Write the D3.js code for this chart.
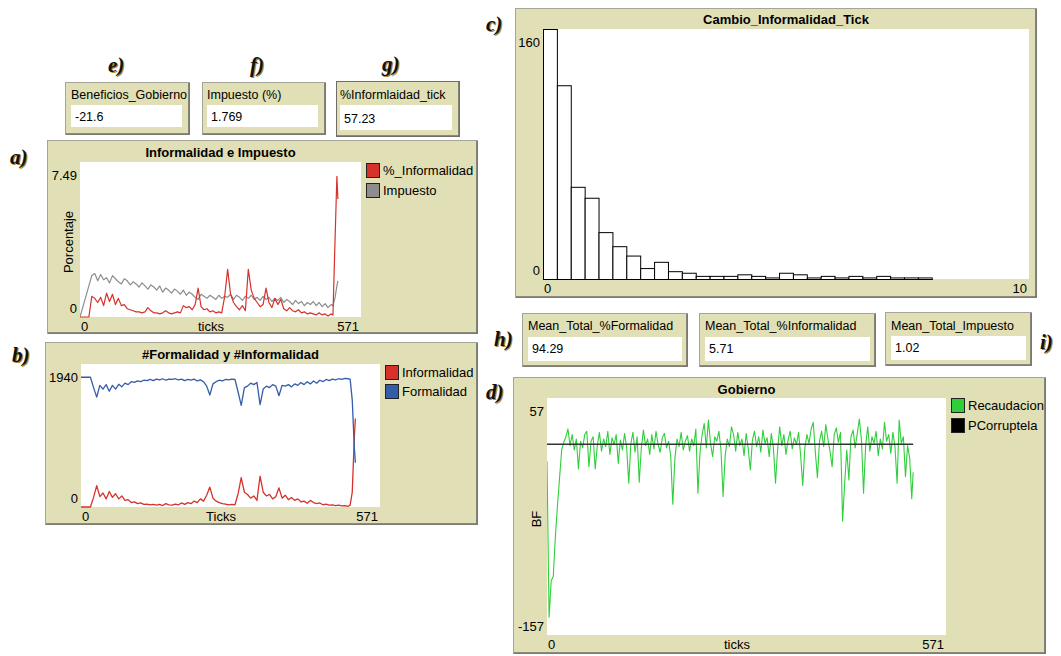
<!DOCTYPE html>
<html><head><meta charset="utf-8">
<script src="https://cdn.jsdelivr.net/npm/d3@7"></script>
<style>body{margin:0;background:#fff}svg{display:block}</style>
</head><body>
<svg id="c" width="1061" height="656"></svg>
<script>
// ---------------- DATA ----------------
// Plot a) Informalidad e Impuesto  /  Plot b) #Formalidad y #Informalidad
const ticksAB = d3.range(0, 511, 6).concat([514, 518, 522, 524]);
const pctInformalidad = [
 0,0,0,0,1.0,0.9,0.7,0.95,0.55,1.15,
 0.75,1.1,0.6,0.9,0.55,0.6,0.4,0.35,0.3,0.25,
 0.25,0.2,0.25,0.45,0.3,0.2,0.2,0.15,0.2,0.3,
 0.2,0.15,0.2,0.25,0.2,0.55,0.45,0.5,0.35,0.6,
 1.4,0.5,0.35,0.4,0.25,0.3,0.2,0.25,0.2,1.0,
 2.3,1.1,0.7,0.5,0.35,0.55,0.3,2.3,1.3,0.9,
 0.7,0.5,0.6,1.4,0.7,0.45,0.9,0.6,0.85,0.4,
 0.3,0.45,0.3,0.25,0.35,0.2,0.25,0.15,0.2,0.15,
 0.1,0.2,0.1,0.15,0.05,0.15,
 0.1,3.5,6.8,5.7];
const impuesto = [
 0,0.5,1.0,1.5,2.0,2.1,1.75,2.05,1.8,1.9,
 1.65,2.0,1.85,1.7,1.6,1.85,1.75,1.55,1.7,1.6,
 1.45,1.65,1.5,1.35,1.55,1.45,1.3,1.5,1.2,1.4,
 1.3,1.15,1.35,1.25,1.1,1.3,1.05,1.2,1.1,0.95,
 0.85,1.1,1.0,0.9,1.05,0.95,0.85,1.05,0.9,1.0,
 0.95,1.1,0.85,1.05,0.95,0.8,1.0,0.9,1.05,0.85,
 0.95,0.8,1.0,0.85,0.95,0.75,0.9,0.8,0.95,0.7,
 0.85,0.75,0.6,0.8,0.65,0.75,0.55,0.7,0.6,0.75,
 0.55,0.7,0.5,0.65,0.45,0.6,
 0.55,0.9,1.5,1.75];
const informalidad = [
 0,0,0,0,130,290,140,190,110,210,
 130,180,110,150,90,100,60,70,45,55,
 35,40,30,35,25,35,20,45,30,25,
 40,30,55,35,60,45,80,60,110,80,
 160,270,120,80,60,45,40,30,35,30,
 180,400,200,170,120,150,90,420,200,150,
 170,110,140,260,120,160,100,130,90,110,
 70,80,50,90,60,45,55,30,40,25,
 30,20,25,15,20,10,
 25,200,950,1200];
const formalidad = [
 1760,1760,1760,1760,1620,1490,1650,1600,1660,1570,
 1650,1600,1665,1630,1680,1660,1700,1690,1710,1700,
 1720,1715,1730,1715,1735,1725,1740,1720,1735,1730,
 1740,1725,1735,1715,1730,1720,1735,1710,1725,1700,
 1640,1520,1670,1700,1720,1710,1730,1725,1735,1730,
 1560,1380,1620,1640,1680,1660,1690,1390,1600,1640,
 1620,1660,1640,1510,1650,1640,1660,1630,1670,1650,
 1690,1660,1700,1670,1710,1680,1720,1700,1730,1715,
 1735,1725,1740,1730,1745,1740,
 1735,1450,800,600];

// Plot c) Cambio_Informalidad_Tick (histogram)
const histInterval = 0.2857;
const histCounts = [160,124,59,52,30,21,15,7,11,5,4,2,2,2,3,2,1,4,3,1,2,1,2,1,2,1,1,1];

// Plot d) Gobierno
const ticksD = [0,3,6,9,12,15,18,21].concat(d3.range(24, 523, 3), [524]);
const recaudacion = [
 0,-141,-108,-104,-68,-40,-15,10,
 17,22,29,14,24,10,20,-7,18,12,
 24,27,-5,18,22,-7,14,26,9,20,
 13,27,6,21,15,24,-2,19,10,25,
 12,-20,16,26,8,22,-19,12,28,14,
 20,6,24,11,27,15,8,21,25,12,
 18,5,-39,2,20,13,26,10,18,23,
 9,20,14,29,-29,8,24,34,12,37,
 16,4,22,18,27,10,-32,5,20,13,
 31,24,9,26,14,20,5,25,11,-8,
 19,27,13,22,8,28,16,21,4,25,
 12,-20,10,31,14,24,6,19,27,11,
 21,15,26,5,-22,12,24,16,29,35,
 8,-15,18,27,13,33,20,9,-5,24,
 30,17,26,-54,-20,10,-17,22,28,12,
 25,38,19,-29,14,31,9,22,16,27,
 5,20,11,35,18,24,7,26,13,-20,
 37,16,22,-14,14,3,-34,
 -10];
const ticksCorr = [0, 524];
const pCorruptela = [15.2, 15.2];

// Monitors
const topMonitorLabels = ["Beneficios_Gobierno", "Impuesto (%)", "%Informlaidad_tick"];
const topMonitorValues = ["-21.6", "1.769", "57.23"];
const botMonitorLabels = ["Mean_Total_%Formalidad", "Mean_Total_%Informalidad", "Mean_Total_Impuesto"];
const botMonitorValues = ["94.29", "5.71", "1.02"];

// Titles / axis labels
const titles = ["Informalidad e Impuesto", "#Formalidad y #Informalidad", "Cambio_Informalidad_Tick", "Gobierno"];
const yRangeA = [0, 7.49], yRangeB = [0, 1940], yRangeC = [0, 160], yRangeD = [-157, 57];
const xRangeA = [0, 571], xRangeB = [0, 571], xRangeC = [0, 10], xRangeD = [0, 571];
const legendA = ["%_Informalidad", "Impuesto"];
const legendB = ["Informalidad", "Formalidad"];
const legendD = ["Recaudacion", "PCorruptela"];
const panelTags = ["a)", "b)", "c)", "d)", "e)", "f)", "g)", "h)", "i)"];

// ---------------- DRAWING ----------------
const svg = d3.select("#c");
const BEIGE = "#e0dfb5";
const SANS = "'Liberation Sans', Arial, sans-serif";
const C = {red:"#d7322a", gray:"#8d8d8d", blue:"#345da9", lime:"#2fcf3c", black:"#000"};

function widget(x0, y0, x1, y1, dark) {
  svg.append("rect").attr("x", x0 + 0.5).attr("y", y0 + 0.5)
    .attr("width", x1 - x0 - 1).attr("height", y1 - y0 - 1)
    .attr("fill", BEIGE).attr("stroke", dark ? "#6d6d66" : "#a4a499");
  svg.append("path").attr("d", `M${x1 - 1},${y0 + 1}V${y1 - 1}H${x0 + 1}`)
    .attr("fill", "none").attr("stroke", "#6f6f69").attr("stroke-width", 1.6);
}
function txt(x, y, s, opt = {}) {
  const t = svg.append("text").attr("x", x).attr("y", y).text(s)
    .attr("font-family", opt.family || SANS)
    .attr("font-size", opt.size || 12.5)
    .attr("font-weight", opt.bold ? "bold" : "normal")
    .attr("font-style", opt.italic ? "italic" : "normal")
    .attr("text-anchor", opt.anchor || "start")
    .attr("dominant-baseline", "central")
    .attr("fill", opt.fill || "#000");
  if (opt.rotate) t.attr("transform", `rotate(-90,${x},${y})`);
  return t;
}
function tag(x, y, s) {
  const o = {family: "'Liberation Serif', 'Times New Roman', serif", size: 21};
  svg.append("text").attr("x", x + 1.2).attr("y", y + 1.2).text(s)
    .attr("font-family", o.family).attr("font-size", o.size).attr("font-weight", "bold")
    .attr("font-style", "italic").attr("fill", "#a8862e");
  svg.append("text").attr("x", x).attr("y", y).text(s)
    .attr("font-family", o.family).attr("font-size", o.size).attr("font-weight", "bold")
    .attr("font-style", "italic").attr("fill", "#111");
}

let clipId = 0;
function plotFrame(cfg) {
  widget(...cfg.box);
  const a = cfg.area;
  svg.append("rect").attr("x", a.x).attr("y", a.y).attr("width", a.w).attr("height", a.h).attr("fill", "#fff");
  const x = d3.scaleLinear().domain(cfg.xd).range([a.x, a.x + a.w]);
  const y = d3.scaleLinear().domain(cfg.yd).range([a.y + a.h, a.y]);
  txt(a.x + a.w / 2, cfg.titleY, cfg.title, {bold: true, size: 13, anchor: "middle"});
  txt(a.x - 3, a.y + 13, String(cfg.yd[1]), {anchor: "end", size: 13});
  txt(a.x - 3, a.y + a.h - 9, String(cfg.yd[0]), {anchor: "end", size: 13});
  txt(a.x + 1, a.y + a.h + 9, String(cfg.xd[0]), {size: 13});
  txt(a.x + a.w - 2, a.y + a.h + 9, String(cfg.xd[1]), {anchor: "end", size: 13});
  if (cfg.xLabel) txt(cfg.xLabelX, a.y + a.h + 9, cfg.xLabel, {anchor: "middle", size: 13});
  if (cfg.yLabel) txt(cfg.yLabelX, cfg.yLabelY, cfg.yLabel, {anchor: "middle", size: 13, rotate: true});
  const id = "clip" + (clipId++);
  svg.append("clipPath").attr("id", id).append("rect")
    .attr("x", a.x).attr("y", a.y - 1).attr("width", a.w).attr("height", a.h + 2);
  const g = svg.append("g").attr("clip-path", `url(#${id})`);
  return {x, y, g};
}
function legend(x, y0, dy, labels, colors) {
  labels.forEach((l, i) => {
    svg.append("rect").attr("x", x + 0.5).attr("y", y0 + i * dy + 0.5).attr("width", 13).attr("height", 14)
      .attr("fill", colors[i]).attr("stroke", "#222");
    txt(x + 17, y0 + i * dy + 7.5, l, {size: 13});
  });
}
function drawLine(p, xs, ys, color, w) {
  const line = d3.line().x((d, i) => p.x(xs[i])).y(d => p.y(d));
  p.g.append("path").datum(ys).attr("d", line).attr("fill", "none")
    .attr("stroke", color).attr("stroke-width", w || 1.2).attr("stroke-linejoin", "round");
}

// --- top monitors e f g ---
const topBoxes = [[65, 82, 190, 135, 71, 105, 182, 127], [202, 82, 326, 135, 207, 105, 318, 127], [336, 81, 460, 137, 340, 105, 452, 130]];
topBoxes.forEach((b, i) => {
  widget(b[0], b[1], b[2], b[3], i === 2);
  svg.append("rect").attr("x", b[4]).attr("y", b[5]).attr("width", b[6] - b[4]).attr("height", b[7] - b[5]).attr("fill", "#fff");
  txt(b[4], 95, topMonitorLabels[i], {size: 12.5});
  txt(b[4] + 4, (b[5] + b[7]) / 2 + 1, topMonitorValues[i], {size: 12.5});
});
// --- bottom monitors h ---
const botBoxes = [[522, 313, 688, 367, 528, 337, 682, 361], [699, 313, 876, 367, 705, 337, 870, 361], [885, 312, 1032, 366, 891, 336, 1026, 360]];
botBoxes.forEach((b, i) => {
  widget(b[0], b[1], b[2], b[3], false);
  svg.append("rect").attr("x", b[4]).attr("y", b[5]).attr("width", b[6] - b[4]).attr("height", b[7] - b[5]).attr("fill", "#fff");
  txt(b[4], 326, botMonitorLabels[i], {size: 12.5});
  txt(b[4] + 4, (b[5] + b[7]) / 2, botMonitorValues[i], {size: 12.5});
});

// --- plot a ---
const pa = plotFrame({box: [47, 140, 478, 334], area: {x: 80, y: 162, w: 281, h: 155}, xd: xRangeA, yd: yRangeA,
  title: titles[0], titleY: 152, xLabel: "ticks", xLabelX: 211, yLabel: "Porcentaje", yLabelX: 68, yLabelY: 242});
drawLine(pa, ticksAB, impuesto, C.gray, 1.2);
drawLine(pa, ticksAB, pctInformalidad, C.red, 1.2);
legend(366, 163, 20, legendA, [C.red, C.gray]);

// --- plot b ---
const pb = plotFrame({box: [45, 342, 478, 525], area: {x: 81, y: 364, w: 299, h: 143}, xd: xRangeB, yd: yRangeB,
  title: titles[1], titleY: 354, xLabel: "Ticks", xLabelX: 221});
drawLine(pb, ticksAB, informalidad, C.red, 1.3);
drawLine(pb, ticksAB, formalidad, C.blue, 1.3);
legend(385, 365, 19, legendB, [C.red, C.blue]);

// --- plot c (histogram) ---
const pc = plotFrame({box: [515, 8, 1037, 298], area: {x: 543, y: 29, w: 486, h: 250}, xd: xRangeC, yd: yRangeC,
  title: titles[2], titleY: 19});
pc.g.selectAll("rect.bar").data(histCounts).join("rect").attr("class", "bar")
  .attr("x", (d, i) => pc.x(i * histInterval) + 0.5)
  .attr("width", (d, i) => pc.x((i + 1) * histInterval) - pc.x(i * histInterval))
  .attr("y", d => pc.y(d) + 0.5)
  .attr("height", d => pc.y(0) - pc.y(d))
  .attr("fill", "#fff").attr("stroke", "#000").attr("stroke-width", 1);

// --- plot d ---
const pd = plotFrame({box: [513, 377, 1046, 654], area: {x: 547, y: 398, w: 399, h: 237}, xd: xRangeD, yd: yRangeD,
  title: titles[3], titleY: 389, xLabel: "ticks", xLabelX: 737, yLabel: "BF", yLabelX: 536, yLabelY: 519});
drawLine(pd, ticksD, recaudacion, C.lime, 1.1);
drawLine(pd, ticksCorr, pCorruptela, "#333", 1.6);
legend(951, 398, 20, legendD, [C.lime, C.black]);

// --- panel tags ---
tag(10, 164, panelTags[0]);
tag(12, 362, panelTags[1]);
tag(486, 31, panelTags[2]);
tag(486, 399, panelTags[3]);
tag(108, 72, panelTags[4]);
tag(250, 72, panelTags[5]);
tag(382, 71, panelTags[6]);
tag(494, 346, panelTags[7]);
tag(1040, 349, panelTags[8]);
</script>
</body></html>
